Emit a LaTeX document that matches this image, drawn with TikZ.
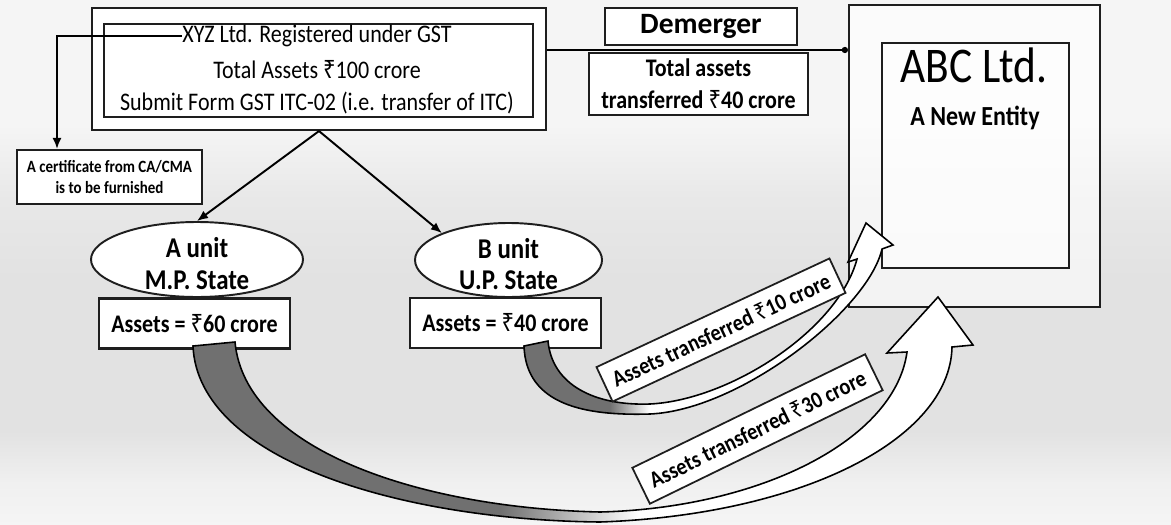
\documentclass[tikz,border=0pt]{standalone}
\usepackage{fontspec}
\setmainfont{Carlito}[FakeStretch=0.87]
\newfontfamily\widefont{Carlito}
\newfontfamily\rupeefont{Noto Sans}[FakeStretch=0.87]
\newcommand{\rsign}{{\rupeefont ₹}}
\usepackage{tikz}
\usetikzlibrary{shapes.geometric, arrows.meta, positioning, calc}

\definecolor{RibbonGray}{HTML}{707070}
\definecolor{EdgeBlack}{HTML}{1E1E1E}
\colorlet{BgLight}{gray!8}
\colorlet{BgMid}{gray!18}
\colorlet{BgDark}{gray!23}
\colorlet{BgLow}{gray!12}
\pgfdeclareverticalshading{backdrop}{100bp}{color(0bp)=(BgLight); color(25bp)=(BgLight); color(29bp)=(BgLow); color(34bp)=(BgDark); color(48bp)=(BgDark); color(56bp)=(BgMid); color(63bp)=(BgLight); color(100bp)=(BgLight)}
\pgfdeclarehorizontalshading{ribbonA}{100bp}{color(0bp)=(RibbonGray); color(44.7bp)=(RibbonGray); color(53.6bp)=(white); color(100bp)=(white)}
\pgfdeclarehorizontalshading{ribbonB}{100bp}{color(0bp)=(RibbonGray); color(36.6bp)=(RibbonGray); color(42bp)=(white); color(100bp)=(white)}

\begin{document}
\begin{tikzpicture}[
  box/.style={
    rectangle, draw=EdgeBlack, line width=1.2pt, fill=white,
    inner sep=0pt, align=center},
  plain/.style={inner sep=0pt, font=\fontsize{14.4}{17}\selectfont},
  unit/.style={
    ellipse, draw=EdgeBlack, line width=1.1pt, fill=white, inner sep=0pt},
  unittxt/.style={
    inner sep=0pt, align=center, font=\fontsize{16.3}{18}\selectfont\bfseries},
  asset/.style={
    box, minimum width=3.82cm, minimum height=1.0cm,
    font=\fontsize{14.4}{17}\selectfont\bfseries},
  tag/.style={
    box, line width=1pt, minimum width=5.14cm, minimum height=0.76cm,
    font=\fontsize{13.3}{15}\selectfont\bfseries},
  arr/.style={
    -{Latex[length=2.2mm,width=1.8mm]}, draw=black, line width=1.1pt},
  rib/.style={draw=black, line width=0.9pt},
]

\useasboundingbox (0,0) rectangle (23.42,-10.48);
\shade[shading=backdrop] (0,0) rectangle (23.42,-10.48);

% company being split
\node[box, minimum width=9.08cm, minimum height=2.44cm] (xyzout) at (6.38,-1.38) {};
\node[box, minimum width=8.58cm, minimum height=1.86cm] (xyzin)  at (6.37,-1.41) {};
\node[plain] (xyz)   at (6.34,-0.72) {XYZ Ltd. Registered under GST};
\node[plain] (total) at (6.34,-1.40) {Total Assets \rsign100 crore};
\node[plain] (form)  at (6.34,-2.06) {Submit Form GST ITC-02 (i.e. transfer of ITC)};

\node[box, minimum width=3.84cm, minimum height=0.74cm,
  font=\widefont\fontsize{16.8}{20}\selectfont\bfseries] (dem) at (14.02,-0.53) {Demerger};
\node[box, minimum width=4.38cm, minimum height=1.24cm,
  font=\fontsize{14.4}{18.2}\selectfont\bfseries] (moved) at (13.97,-1.68)
  {Total assets\\transferred \rsign40 crore};

% new entity
\node[box, fill opacity=0.6, minimum width=5.02cm, minimum height=6.04cm] (abcout) at (19.49,-3.12) {};
\node[box, fill opacity=0.6, minimum width=3.74cm, minimum height=4.50cm] (abcin)  at (19.51,-3.11) {};
\node[font=\fontsize{28.4}{32}\selectfont] (abc) at (19.48,-1.30) {ABC Ltd.};
\node[font=\fontsize{15.7}{18}\selectfont\bfseries] (newent) at (19.50,-2.36) {A New Entity};

\node[box, minimum width=3.70cm, minimum height=1.08cm,
  font=\fontsize{9.8}{12.5}\selectfont\bfseries] (cert) at (2.19,-3.54)
  {A certificate from CA/CMA\\is to be furnished};

% units
\node[unit, minimum width=4.24cm, minimum height=1.50cm] (aunit) at (3.94,-5.19) {};
\node[unittxt] (atxt) at ([yshift=-0.08cm]aunit.center) {A unit\\M.P. State};
\node[unit, minimum width=3.74cm, minimum height=1.48cm] (bunit) at (10.17,-5.20) {};
\node[unittxt] (btxt) at ([yshift=-0.08cm]bunit.center) {B unit\\U.P. State};

\node[asset] (abox) at (3.89,-6.47)  {Assets = \rsign60 crore};
\node[asset] (bbox) at (10.11,-6.46) {Assets = \rsign40 crore};

\draw[arr] (xyz.west) -| ([xshift=-1.05cm]cert.north);
\draw[arr] (xyzout.south) -- (aunit.north);
\draw[arr] (xyzout.south) -- (bunit.158);

\coordinate (split) at ([yshift=0.38cm]xyzout.east);
\draw[line width=1.1pt, -{Circle[length=3.5pt]}] (split) -- (split -| abcout.west);

% curved transfer arrows
\shadedraw[rib, shading=ribbonA]
  (3.86,-6.92) .. controls (3.96,-9.20) and (8.00,-10.40) .. (12.00,-10.44)
  .. controls (16.00,-10.30) and (19.00,-8.80) .. (19.04,-6.94)
  -- (19.46,-6.90) -- (18.76,-5.94) -- (17.74,-7.06) -- (18.14,-7.04)
  .. controls (17.90,-8.80) and (15.20,-10.16) .. (12.00,-10.24)
  .. controls (8.40,-10.16) and (4.90,-9.00) .. (4.70,-6.84) -- cycle;

\shadedraw[rib, shading=ribbonB]
  (10.48,-6.92) .. controls (10.52,-8.10) and (11.70,-8.32) .. (13.00,-8.28)
  .. controls (14.80,-8.20) and (17.36,-6.20) .. (17.64,-4.98)
  -- (17.86,-4.90) -- (17.32,-4.46) -- (16.96,-5.24) -- (17.14,-5.18)
  .. controls (16.76,-6.60) and (14.60,-8.00) .. (13.00,-8.08)
  .. controls (11.90,-8.12) and (11.04,-7.70) .. (10.96,-6.82) -- cycle;

\node[tag, rotate=25] (tag10) at (14.42,-6.60) {Assets transferred \rsign10 crore};
\node[tag, rotate=26, minimum width=5.18cm, minimum height=0.80cm] (tag30) at (15.15,-8.58)
  {Assets transferred \rsign30 crore};

\end{tikzpicture}
\end{document}
